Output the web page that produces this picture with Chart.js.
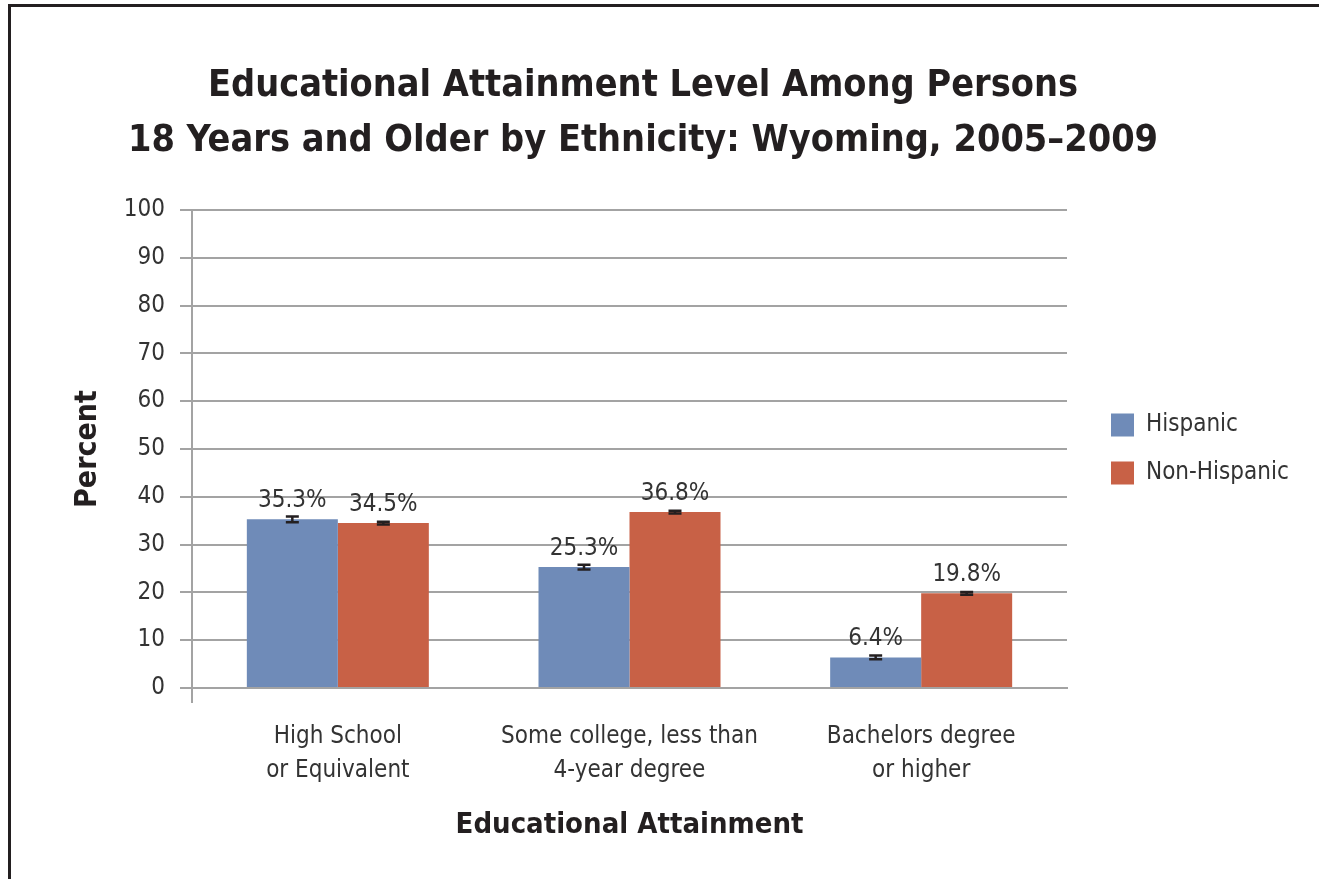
<!DOCTYPE html>
<html>
<head>
<meta charset="utf-8">
<title>Educational Attainment - Wyoming</title>
<script src="https://cdn.jsdelivr.net/npm/chart.js@4/dist/chart.umd.min.js"></script>
<style>
    html, body { margin: 0; padding: 0; background: #fff; }
    #chart-box { position: relative; width: 1319px; height: 879px; }
</style>
</head>
<body>
<div id="chart-box">
    <canvas id="attainment-chart" width="1319" height="879"></canvas>
</div>
<script>
var categories = [
    ["High School", "or Equivalent"],
    ["Some college, less than", "4-year degree"],
    ["Bachelors degree", "or higher"]
];
var hispanic = [35.3, 25.3, 6.4];
var nonHispanic = [34.5, 36.8, 19.8];
// margem de erro (pontos percentuais)
var hispanicMoe = [0.6, 0.5, 0.4];
var nonHispanicMoe = [0.3, 0.3, 0.3];
var yTicks = [0, 10, 20, 30, 40, 50, 60, 70, 80, 90, 100];
var titleLines = [
    "Educational Attainment Level Among Persons",
    "18 Years and Older by Ethnicity: Wyoming, 2005\u20132009"
];

(
    function () {
        var canvas = document.getElementById("attainment-chart");
        if (!canvas) {
            return;
        }

        var fontFamily = "'DejaVu Sans Condensed', 'Liberation Sans Narrow', 'Liberation Sans', sans-serif";
        var ink = "#231f20";
        var textGray = "#333333";
        var gridGray = "#a3a3a3";

        /**
         * Moldura, título, rótulos, barras de erro e legenda.
         */
        var decorations = {
            id: 'decorations',
            beforeDraw: function (chart) {
                var ctx = chart.ctx;
                ctx.save();
                ctx.fillStyle = ink;
                ctx.fillRect(8, 4, chart.width - 8, 3);
                ctx.fillRect(8, 4, 3, chart.height - 4);

                ctx.font = "bold 37.5px " + fontFamily;
                ctx.textAlign = 'center';
                ctx.textBaseline = 'middle';
                titleLines.forEach(function (line, i) {
                    ctx.fillText(line, 643, 86 + i * 55);
                });
                ctx.restore();
            },
            afterDatasetsDraw: function (chart) {
                var ctx = chart.ctx;
                var y = chart.scales.y;
                var moes = [hispanicMoe, nonHispanicMoe];
                ctx.save();

                chart.data.datasets.forEach(function (ds, di) {
                    chart.getDatasetMeta(di).data.forEach(function (bar, i) {
                        var top = y.getPixelForValue(ds.data[i] + moes[di][i]);
                        var bottom = y.getPixelForValue(ds.data[i] - moes[di][i]);
                        ctx.strokeStyle = ink;
                        ctx.lineWidth = 2.5;
                        ctx.beginPath();
                        ctx.moveTo(bar.x, top);
                        ctx.lineTo(bar.x, bottom);
                        ctx.moveTo(bar.x - 6.5, top);
                        ctx.lineTo(bar.x + 6.5, top);
                        ctx.moveTo(bar.x - 6.5, bottom);
                        ctx.lineTo(bar.x + 6.5, bottom);
                        ctx.stroke();

                        ctx.fillStyle = textGray;
                        ctx.font = "24px " + fontFamily;
                        ctx.textAlign = 'center';
                        ctx.textBaseline = 'alphabetic';
                        ctx.fillText(ds.data[i].toFixed(1) + "%", bar.x, y.getPixelForValue(ds.data[i]) - 12);
                    });
                });

                // legenda à direita
                var area = chart.chartArea;
                var mid = (area.top + area.bottom) / 2;
                chart.data.datasets.forEach(function (ds, di) {
                    var cy = mid - 24 + di * 48;
                    ctx.fillStyle = ds.backgroundColor;
                    ctx.fillRect(area.right + 44, cy - 11.5, 23, 23);
                    ctx.fillStyle = textGray;
                    ctx.font = "24px " + fontFamily;
                    ctx.textAlign = 'left';
                    ctx.textBaseline = 'middle';
                    ctx.fillText(ds.label, area.right + 79, cy);
                });
                ctx.restore();
            }
        };

        new Chart(canvas, {
            type: 'bar',
            data: {
                labels: categories,
                datasets: [
                    {
                        label: 'Hispanic',
                        data: hispanic,
                        backgroundColor: "#6f8bb8"
                    },
                    {
                        label: 'Non-Hispanic',
                        data: nonHispanic,
                        backgroundColor: "#c86146"
                    }
                ]
            },
            options: {
                responsive: false,
                animation: false,
                layout: {
                    padding: { top: 210, right: 252, bottom: 0, left: 0 }
                },
                datasets: {
                    bar: {
                        barPercentage: 1,
                        categoryPercentage: 0.624
                    }
                },
                plugins: {
                    legend: { display: false },
                    tooltip: { enabled: false },
                    title: { display: false }
                },
                scales: {
                    x: {
                        afterFit: function (scale) {
                            scale.height = 191;
                        },
                        grid: {
                            offset: true,
                            drawOnChartArea: false,
                            drawTicks: true,
                            tickLength: 15,
                            lineWidth: 2,
                            color: function (c) {
                                return c.index === 0 ? gridGray : 'rgba(0,0,0,0)';
                            }
                        },
                        border: { display: true, color: gridGray, width: 2 },
                        ticks: {
                            color: textGray,
                            padding: 17,
                            autoSkip: false,
                            maxRotation: 0,
                            minRotation: 0,
                            font: { family: fontFamily, size: 24, lineHeight: 1.417 }
                        },
                        title: {
                            display: true,
                            text: 'Educational Attainment',
                            color: ink,
                            padding: { top: 0, bottom: 36 },
                            font: { family: fontFamily, size: 29, weight: 'bold', lineHeight: 1.2 }
                        }
                    },
                    y: {
                        min: 0,
                        max: 100,
                        afterFit: function (scale) {
                            scale.width = 192;
                        },
                        afterBuildTicks: function (scale) {
                            scale.ticks = yTicks.map(function (v) {
                                return { value: v };
                            });
                        },
                        grid: {
                            color: gridGray,
                            lineWidth: 2,
                            tickLength: 12
                        },
                        border: { display: true, color: gridGray, width: 2 },
                        ticks: {
                            color: textGray,
                            padding: 15,
                            font: { family: fontFamily, size: 24 }
                        },
                        title: {
                            display: true,
                            text: 'Percent',
                            color: ink,
                            padding: { top: 70, bottom: 0 },
                            font: { family: fontFamily, size: 30, weight: 'bold', lineHeight: 1.2 }
                        }
                    }
                }
            },
            plugins: [decorations]
        });
    }
)();
</script>
</body>
</html>
